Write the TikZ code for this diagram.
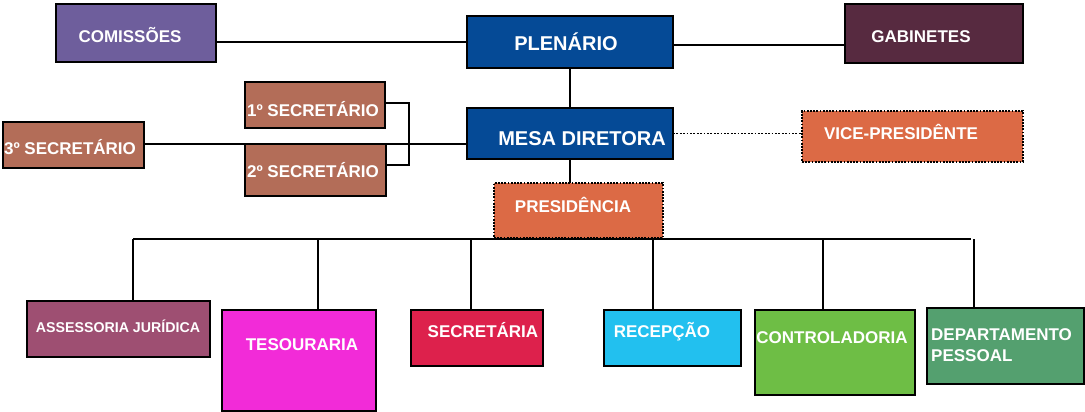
\documentclass[tikz,border=0pt]{standalone}
\usepackage{fontspec}
\setmainfont{Liberation Sans}
\definecolor{cPurple}{HTML}{6E5E9C}
\definecolor{cBlue}{HTML}{054A96}
\definecolor{cWine}{HTML}{572A40}
\definecolor{cOrange}{HTML}{DC6A45}
\definecolor{cBrown}{HTML}{B36D58}
\definecolor{cMauve}{HTML}{9E4F72}
\definecolor{cMagenta}{HTML}{F22BD8}
\definecolor{cRed}{HTML}{DD214C}
\definecolor{cCyan}{HTML}{22C0EF}
\definecolor{cGreen}{HTML}{6EBE45}
\definecolor{cTeal}{HTML}{54A06F}
\tikzset{
  orgbox/.style={draw=black, line width=1.6pt, inner sep=0pt, outer sep=0pt},
  dotbox/.style={orgbox, line width=1.8pt, dash pattern=on 1.8pt off 1.4pt},
  lbl/.style={text=white, inner sep=0pt, font=\bfseries\fontsize{17}{21}\selectfont, text height=12.2pt, text depth=0pt},
  lblbig/.style={lbl, font=\bfseries\fontsize{20}{24}\selectfont, text height=14.3pt},
  lblsmall/.style={lbl, font=\bfseries\fontsize{14.2}{17}\selectfont, text height=10.2pt},
  conn/.style={draw=black, line width=1.6pt},
  dotconn/.style={conn, line width=1.8pt, dash pattern=on 1.8pt off 1.6pt}
}
\begin{document}
\begin{tikzpicture}[x=1pt,y=-1pt]
\useasboundingbox (0,0) rectangle (1085,412);
% boxes
\node[orgbox, fill=cPurple, minimum width=160pt, minimum height=58pt] (comiss) at (136,33) {};
\node[orgbox, fill=cBlue, minimum width=206pt, minimum height=52pt] (plen) at (570,42) {};
\node[orgbox, fill=cWine, minimum width=178pt, minimum height=59pt] (gab) at (934,33.5) {};
\node[orgbox, fill=cBlue, minimum width=206pt, minimum height=51pt] (mesa) at (570,133.5) {};
\node[dotbox, fill=cOrange, minimum width=221pt, minimum height=51pt] (vice) at (912.5,136.5) {};
\node[dotbox, fill=cOrange, minimum width=169pt, minimum height=55pt] (pres) at (578.5,210.5) {};
\node[orgbox, fill=cBrown, minimum width=140pt, minimum height=46pt] (s1) at (315,105) {};
\node[orgbox, fill=cBrown, minimum width=141pt, minimum height=52pt] (s2) at (315.5,170) {};
\node[orgbox, fill=cBrown, minimum width=141pt, minimum height=46pt] (s3) at (73.5,145) {};
\node[orgbox, fill=cMauve, minimum width=183pt, minimum height=56pt] (assess) at (118.5,329) {};
\node[orgbox, fill=cMagenta, minimum width=154pt, minimum height=101pt] (tes) at (299,360.5) {};
\node[orgbox, fill=cRed, minimum width=132pt, minimum height=56pt] (sec) at (477,338) {};
\node[orgbox, fill=cCyan, minimum width=137pt, minimum height=56pt] (rec) at (672.5,338) {};
\node[orgbox, fill=cGreen, minimum width=160pt, minimum height=85pt] (ctrl) at (835,352.5) {};
\node[orgbox, fill=cTeal, minimum width=157pt, minimum height=76pt] (dep) at (1005.5,346) {};
% labels
\node[lbl] (tcomiss) at (130,36) {COMISSÕES};
\node[lblbig] (tplen) at (566,43) {PLENÁRIO};
\node[lbl] (tgab) at (921,36) {GABINETES};
\node[lblbig] (tmesa) at (582,138) {MESA DIRETORA};
\node[lbl] (tvice) at (901,133) {VICE-PRESIDÊNTE};
\node[lbl] (tpres) at (573,206) {PRESIDÊNCIA};
\node[lbl] (ts1) at (313,110) {1º SECRETÁRIO};
\node[lbl] (ts2) at (313,171) {2º SECRETÁRIO};
\node[lbl] (ts3) at (70,148) {3º SECRETÁRIO};
\node[lblsmall] (tassess) at (118,327) {ASSESSORIA JURÍDICA};
\node[lbl] (ttes) at (302,344) {TESOURARIA};
\node[lbl] (tsec) at (483,331) {SECRETÁRIA};
\node[lbl] (trec) at (662,331) {RECEPÇÃO};
\node[lbl] (tctrl) at (832,337) {CONTROLADORIA};
\node[text=white, inner sep=0pt, font=\bfseries\fontsize{17}{21}\selectfont, align=left, anchor=west] (tdep) at (931,345.5) {DEPARTAMENTO\\PESSOAL};
% connectors
\draw[conn] (comiss.east |- plen.west) -- (plen.west);
\draw[conn] ([yshift=-3pt]plen.east) -- ([yshift=-3pt]plen.east -| gab.west);
\draw[conn] (plen) -- (mesa);
\draw[dotconn] (mesa.east) -- (mesa.east -| vice.west);
\draw[conn] (mesa.south) -- (mesa.south |- pres.north);
\draw[conn] ([yshift=1pt]s3.east) -- ([yshift=1pt]s3.east -| mesa.west);
\draw[conn] ([yshift=2pt]s1.east) -- ++(24,0) |- ([yshift=5pt]s2.east);
% bus
\coordinate (busL) at (133,239);
\coordinate (b2) at (318,239);
\coordinate (b3) at (471,239);
\coordinate (b4) at (653,239);
\coordinate (b5) at (823,239);
\coordinate (busR) at (971,239);
\coordinate (b6) at (974,239);
\draw[conn] (busL) -- (busR);
\draw[conn] (busL) -- (busL |- assess.north);
\draw[conn] (b2) -- (b2 |- tes.north);
\draw[conn] (b3) -- (b3 |- sec.north);
\draw[conn] (b4) -- (b4 |- rec.north);
\draw[conn] (b5) -- (b5 |- ctrl.north);
\draw[conn] (b6) -- (b6 |- dep.north);
\end{tikzpicture}
\end{document}
